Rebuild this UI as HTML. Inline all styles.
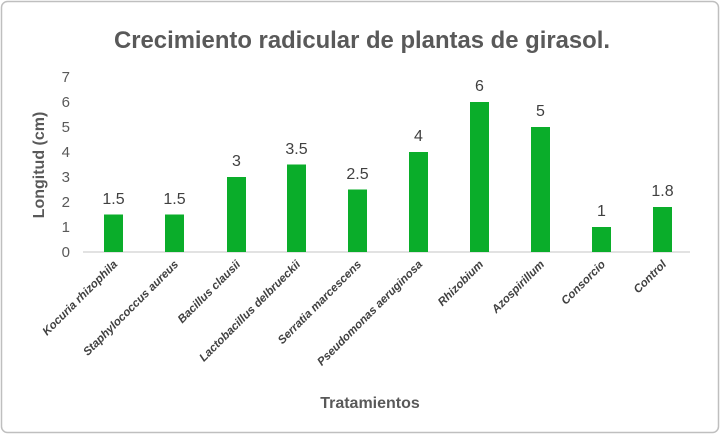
<!DOCTYPE html>
<html><head><meta charset="utf-8"><style>
body{margin:0;background:#fff}
svg text{font-family:"Liberation Sans",sans-serif}
</style></head><body>
<svg width="724" height="438" viewBox="0 0 724 438">
<rect x="1.5" y="1.5" width="717" height="431" rx="6" fill="#fff" stroke="#bfbfbf" stroke-width="1.5"/>
<text x="362" y="48" text-anchor="middle" font-size="24" fill="#595959" font-weight="bold" textLength="496" lengthAdjust="spacingAndGlyphs">Crecimiento radicular de plantas de girasol.</text>
<g font-size="15" fill="#595959" text-anchor="end">
<text x="70" y="257">0</text><text x="70" y="232">1</text><text x="70" y="207">2</text><text x="70" y="182">3</text><text x="70" y="157">4</text><text x="70" y="132">5</text><text x="70" y="107">6</text><text x="70" y="82">7</text>
</g>
<text transform="translate(44,165) rotate(-90)" text-anchor="middle" font-size="16" font-weight="bold" fill="#595959">Longitud (cm)</text>
<line x1="83" y1="252" x2="690" y2="252" stroke="#d9d9d9" stroke-width="1.5"/>
<g fill="#0aad2a">
<rect x="104" y="214.5" width="19" height="37.5"/>
<rect x="165" y="214.5" width="19" height="37.5"/>
<rect x="227" y="177" width="19" height="75"/>
<rect x="287" y="164.5" width="19" height="87.5"/>
<rect x="348" y="189.5" width="19" height="62.5"/>
<rect x="409" y="152" width="19" height="100"/>
<rect x="470" y="102" width="19" height="150"/>
<rect x="531" y="127" width="19" height="125"/>
<rect x="592" y="227" width="19" height="25"/>
<rect x="653" y="207" width="19" height="45"/>
</g>
<g font-size="16" fill="#404040" text-anchor="middle">
<text x="113.5" y="204">1.5</text><text x="174.5" y="204">1.5</text><text x="236.5" y="166">3</text><text x="296.5" y="154">3.5</text><text x="357.5" y="179">2.5</text><text x="418.5" y="141">4</text><text x="479.5" y="91">6</text><text x="540.5" y="116">5</text><text x="601.5" y="216">1</text><text x="662.5" y="196">1.8</text>
</g>
<g font-size="11.5" font-weight="bold" font-style="italic" fill="#404040" text-anchor="end">
<text transform="translate(118,265) rotate(-45)">Kocuria rhizophila</text>
<text transform="translate(179,265) rotate(-45)">Staphylococcus aureus</text>
<text transform="translate(241,265) rotate(-45)">Bacillus clausii</text>
<text transform="translate(301,265) rotate(-45)">Lactobacillus delbrueckii</text>
<text transform="translate(362,265) rotate(-45)">Serratia marcescens</text>
<text transform="translate(423,265) rotate(-45)">Pseudomonas aeruginosa</text>
<text transform="translate(484,265) rotate(-45)">Rhizobium</text>
<text transform="translate(545,265) rotate(-45)">Azospirillum</text>
<text transform="translate(606,265) rotate(-45)">Consorcio</text>
<text transform="translate(667,265) rotate(-45)">Control</text>
</g>
<text x="370" y="408" text-anchor="middle" font-size="16" font-weight="bold" fill="#595959">Tratamientos</text>
</svg>
</body></html>
